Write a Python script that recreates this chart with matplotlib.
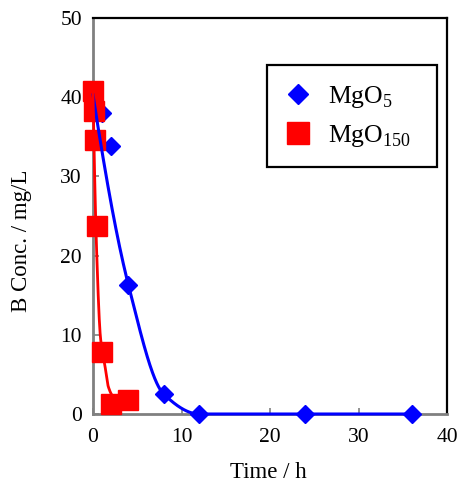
import numpy as np
import matplotlib
matplotlib.use("Agg")
import matplotlib.pyplot as plt

plt.rcParams['font.family'] = ['Liberation Serif', 'DejaVu Serif']
plt.rcParams['mathtext.fontset'] = 'custom'
plt.rcParams['mathtext.rm'] = 'Liberation Serif'

# ---- data ----
t_mgo5 = [0, 1, 2, 4, 8, 12, 24, 36]
c_mgo5 = [40.3, 38.0, 33.8, 16.3, 2.5, 0.0, 0.0, 0.0]

t_mgo150 = [0, 0.1, 0.25, 0.5, 1, 2, 4]
c_mgo150 = [40.8, 38.3, 34.6, 23.7, 7.8, 1.3, 1.8]

# fitted trend lines (knots)
fit5_t = [0, 4, 8, 12, 24, 36]
fit5_c = [40.3, 16.3, 2.5, 0.0, 0.0, 0.0]
fit150_t = [0, 0.37, 0.85, 1.36, 1.73, 2.3, 4]
fit150_c = [40.5, 22.0, 9.6, 6.0, 3.45, 2.2, 1.6]

labels = ['MgO$_\\mathregular{5}$', 'MgO$_\\mathregular{150}$  ']
x_ticks = [0, 10, 20, 30, 40]
y_ticks = [0, 10, 20, 30, 40, 50]


def pchip(x, y, xn):
    x = np.asarray(x, float); y = np.asarray(y, float)
    h = np.diff(x); d = np.diff(y) / h
    n = len(x); m = np.zeros(n)
    for k in range(1, n - 1):
        if d[k - 1] * d[k] <= 0:
            m[k] = 0
        else:
            w1 = 2 * h[k] + h[k - 1]; w2 = h[k] + 2 * h[k - 1]
            m[k] = (w1 + w2) / (w1 / d[k - 1] + w2 / d[k])
    def endslope(h0, h1, d0, d1):
        s = ((2 * h0 + h1) * d0 - h0 * d1) / (h0 + h1)
        if np.sign(s) != np.sign(d0):
            s = 0
        elif np.sign(d0) != np.sign(d1) and abs(s) > abs(3 * d0):
            s = 3 * d0
        return s
    m[0] = endslope(h[0], h[1], d[0], d[1])
    m[-1] = endslope(h[-1], h[-2], d[-1], d[-2])
    xn = np.asarray(xn, float)
    idx = np.clip(np.searchsorted(x, xn) - 1, 0, n - 2)
    hh = h[idx]; s = (xn - x[idx]) / hh
    h00 = 2 * s**3 - 3 * s**2 + 1; h10 = s**3 - 2 * s**2 + s
    h01 = -2 * s**3 + 3 * s**2; h11 = s**3 - s**2
    return h00 * y[idx] + h10 * hh * m[idx] + h01 * y[idx + 1] + h11 * hh * m[idx + 1]


W, H = 461, 483
fig = plt.figure(figsize=(W / 100, H / 100), dpi=100)
ax = fig.add_axes([93 / W, 1 - 414 / H, 354 / W, 396 / H])

blue = '#0000ff'
red = '#ff0000'

ax.plot(t_mgo5, c_mgo5, linestyle='none', marker='D', markersize=9.5,
        color=blue, clip_on=False, zorder=3, label=labels[0])
ax.plot(t_mgo150, c_mgo150, linestyle='none', marker='s', markersize=15,
        color=red, clip_on=False, zorder=4, label=labels[1])

xs5 = np.linspace(fit5_t[0], fit5_t[-1], 600)
ax.plot(xs5, pchip(fit5_t, fit5_c, xs5), color=blue, lw=2.2, zorder=5, clip_on=False)
xs150 = np.linspace(fit150_t[0], fit150_t[-1], 300)
ax.plot(xs150, pchip(fit150_t, fit150_c, xs150), color=red, lw=2.0, zorder=5, clip_on=False)

ax.set_xlim(0, 40)
ax.set_ylim(0, 50)
ax.set_xticks(x_ticks)
ax.set_yticks(y_ticks)
ax.tick_params(direction='in', length=4, width=1.2, color='#808080',
               labelsize=15.5)
ax.tick_params(axis='y', pad=8)
ax.tick_params(axis='x', pad=10)

for side in ['left', 'bottom']:
    ax.spines[side].set_color('#808080')
    ax.spines[side].set_linewidth(2.0)
for side in ['top', 'right']:
    ax.spines[side].set_color('black')
    ax.spines[side].set_linewidth(1.6)

ax.set_xlabel('Time / h', fontsize=16.5)
ax.set_ylabel('B Conc. / mg/L', fontsize=16.5)
ax.xaxis.set_label_coords(0.495, -0.122)
ax.yaxis.set_label_coords(-0.172, 0.437)

leg = ax.legend(loc='upper left', bbox_to_anchor=(0.4915, 0.881), fontsize=18.5,
                frameon=True, fancybox=False, framealpha=1, edgecolor='black',
                borderpad=0.72, handlelength=0.96, handletextpad=0.69,
                labelspacing=0.51, borderaxespad=0, markerscale=1.1)
leg.get_frame().set_linewidth(1.6)

fig.savefig('out.png', dpi=100)
